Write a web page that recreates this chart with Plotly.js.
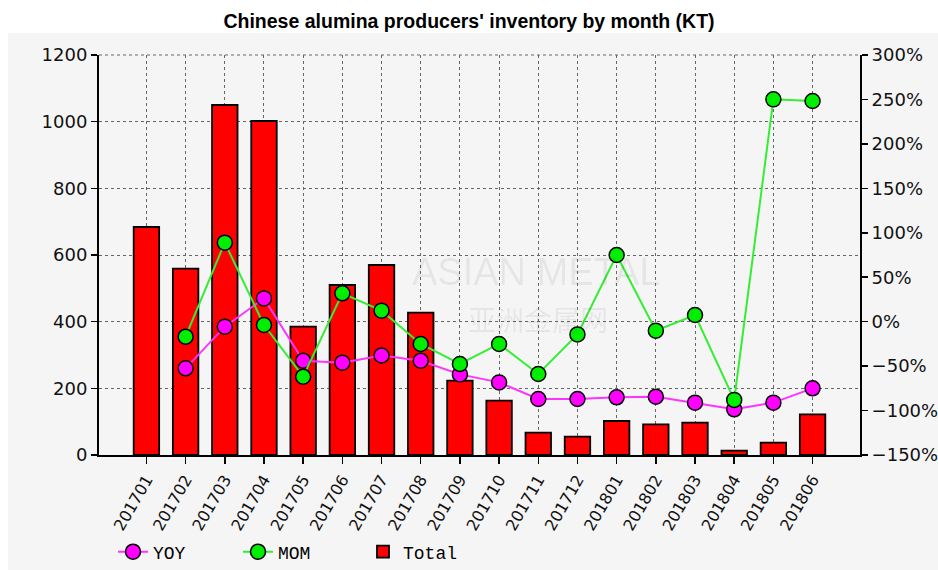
<!DOCTYPE html>
<html>
<head>
<meta charset="utf-8">
<script src="https://cdn.plot.ly/plotly-3.0.1.min.js"></script>
<style>html,body{margin:0;padding:0;background:#fff;}#chart{width:938px;height:570px;}</style>
</head>
<body>
<div id="chart"></div>
<script>
const months = ['201701','201702','201703','201704','201705','201706','201707','201708','201709','201710','201711','201712','201801','201802','201803','201804','201805','201806'];
const total = [684, 559, 1050, 1002, 385, 510, 570, 427, 223, 163, 67, 55, 102, 92, 97, 13, 37, 122];
const yoy = [null, -52.5, -5.6, 26.2, -43.9, -46.1, -38, -43.9, -59.3, -68.3, -87, -87, -85.1, -84.4, -91.1, -98.6, -91.1, -75];
const mom = [null, -16.9, 88.9, -3.8, -61.9, 31.9, 12.4, -25.1, -47.6, -25.1, -58.9, -14.3, 75, -10.1, 7.5, -88, 250.1, 248.3];

const tickFont = {family: 'DejaVu Sans', size: 18, color: '#111'};

const traces = [
  {type: 'bar', name: 'Total', x: months, y: total, yaxis: 'y', width: 0.65,
   marker: {color: '#ff0000', line: {color: '#000', width: 1.8}}, legendrank: 3},
  {type: 'scatter', mode: 'lines+markers', name: 'YOY', x: months, y: yoy, yaxis: 'y2',
   line: {color: '#ff33ff', width: 2}, marker: {color: '#ff00ff', size: 15, line: {color: '#000', width: 1.5}},
   legendrank: 1},
  {type: 'scatter', mode: 'lines+markers', name: 'MOM', x: months, y: mom, yaxis: 'y2',
   line: {color: '#33ee33', width: 2}, marker: {color: '#00ee00', size: 15, line: {color: '#000', width: 1.5}},
   legendrank: 2}
];

const layout = {
  width: 938, height: 570,
  margin: {l: 99, r: 78, t: 55, b: 115, autoexpand: false},
  paper_bgcolor: '#ffffff',
  plot_bgcolor: 'rgba(0,0,0,0)',
  title: {text: "Chinese alumina producers' inventory by month (KT)",
          font: {family: 'Liberation Sans', size: 19.5, color: '#000', weight: 'bold'},
          x: 0.5, xanchor: 'center', y: 0.962, yanchor: 'middle'},
  showlegend: true,
  legend: {orientation: 'h', xref: 'container', yref: 'container', x: 113 / 938, xanchor: 'left',
           y: 1 - 552 / 570, yanchor: 'middle',
           font: {family: 'Liberation Mono', size: 18, color: '#000'},
           entrywidth: 80, entrywidthmode: 'pixels', bgcolor: 'rgba(0,0,0,0)', traceorder: 'normal'},
  xaxis: {type: 'category', tickangle: -60, tickfont: {family: 'DejaVu Sans', size: 16, color: '#111'},
          automargin: false,
          showgrid: true, gridcolor: '#666', griddash: 'dot', gridwidth: 1,
          showline: true, linecolor: '#000', linewidth: 2, ticks: 'outside', ticklen: 7, tickwidth: 1.5, tickcolor: '#000',
          zeroline: false, fixedrange: true},
  yaxis: {range: [0, 1200], dtick: 200, tickfont: tickFont, automargin: false,
          showgrid: true, gridcolor: '#666', griddash: 'dot', gridwidth: 1,
          showline: true, linecolor: '#000', linewidth: 2, ticks: 'outside', ticklen: 6, tickwidth: 1.5, tickcolor: '#000',
          zeroline: false, fixedrange: true},
  yaxis2: {range: [-150, 300], dtick: 50, ticksuffix: '%', overlaying: 'y', side: 'right', tickfont: tickFont,
           automargin: false,
           showgrid: false, showline: true, linecolor: '#000', linewidth: 2, ticks: 'outside', ticklen: 6, tickwidth: 1.5, tickcolor: '#000',
           zeroline: false, fixedrange: true},
  shapes: [
    {type: 'rect', xref: 'paper', yref: 'paper', x0: -0.1196, x1: 1.11, y0: -0.3, y1: 1.055,
     fillcolor: '#f5f5f5', line: {width: 0}, layer: 'below'},
    {type: 'line', xref: 'paper', yref: 'paper', x0: 0, x1: 1, y0: 1, y1: 1,
     line: {color: '#666', width: 1, dash: 'dot'}, layer: 'below'}
  ],
  annotations: [
    {text: 'ASIAN METAL', xref: 'paper', yref: 'paper', x: (536 - 99) / 761, y: (455 - 272) / 400,
     showarrow: false, font: {family: 'Liberation Sans', size: 38, color: 'rgba(0,0,0,0.07)'}},
    {text: '亚洲金属网', xref: 'paper', yref: 'paper', x: (538 - 99) / 761, y: (455 - 319) / 400,
     showarrow: false, font: {family: 'Noto Sans CJK SC', size: 28, color: 'rgba(0,0,0,0.07)'}}
  ]
};

Plotly.newPlot('chart', traces, layout, {displayModeBar: false, staticPlot: true});
</script>
</body>
</html>
